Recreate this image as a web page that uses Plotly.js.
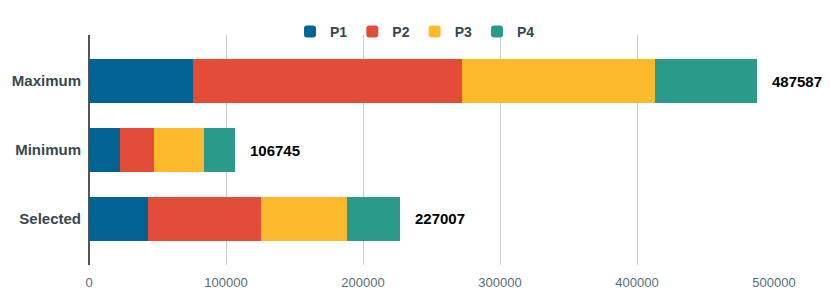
<!DOCTYPE html>
<html>
<head>
<meta charset="utf-8">
<script src="https://cdn.plot.ly/plotly-3.0.1.min.js"></script>
<style>html,body{margin:0;padding:0;background:#fff;}#chart{width:830px;height:303px;}</style>
</head>
<body>
<div id="chart"></div>
<script>
const categories = ['Maximum', 'Minimum', 'Selected'];
const seriesNames = ['P1', 'P2', 'P3', 'P4'];
const P1 = [76130, 22340, 42800];
const P2 = [196130, 25110, 82970];
const P3 = [141100, 36710, 62770];
const P4 = [74227, 22585, 38467];
const xTicks = [0, 100000, 200000, 300000, 400000, 500000];

const colors = ['#026493', '#E34C39', '#FCB92B', '#2A9A8A'];
const allSeries = [P1, P2, P3, P4];

const traces = allSeries.map((vals, i) => ({
  type: 'bar',
  orientation: 'h',
  name: seriesNames[i],
  y: categories,
  x: vals,
  marker: {color: colors[i], line: {width: 0}},
  hoverinfo: 'none'
}));

const totals = categories.map((c, j) => allSeries.reduce((s, arr) => s + arr[j], 0));
const annotations = categories.map((c, j) => ({
  x: totals[j], y: c, xref: 'x', yref: 'y',
  text: String(totals[j]), showarrow: false,
  xanchor: 'left', xshift: 13, yanchor: 'middle',
  font: {family: 'Liberation Sans, Arial, sans-serif', size: 15, color: '#000', weight: 'bold'}
}));

const layout = {
  width: 830, height: 303,
  margin: {l: 89, r: 56, t: 35, b: 38, autoexpand: false},
  barmode: 'stack',
  bargap: 0.36,
  barcornerradius: 2,
  paper_bgcolor: '#fff', plot_bgcolor: '#fff',
  font: {family: 'Liberation Sans, Arial, sans-serif'},
  showlegend: true,
  legend: {
    orientation: 'h', xref: 'container', yref: 'container',
    x: 0.5, xanchor: 'center', y: 1 - 32/303, yanchor: 'middle',
    font: {size: 14, color: '#37474F', weight: 'bold'},
    traceorder: 'normal', itemclick: false, bgcolor: 'rgba(0,0,0,0)'
  },
  xaxis: {
    range: [0, 500000], tickvals: xTicks, ticktext: xTicks.map(String),
    showgrid: true, gridcolor: '#CCCCCC', gridwidth: 1,
    zeroline: true, zerolinecolor: '#555555', zerolinewidth: 1.5,
    showline: false, ticks: '', automargin: false,
    tickfont: {size: 13, color: '#546E7A'}, ticklabelstandoff: 8,
    fixedrange: true
  },
  yaxis: {
    type: 'category', categoryorder: 'array', categoryarray: ['Selected', 'Minimum', 'Maximum'],
    range: [-0.667, 2.667], showgrid: false, zeroline: false, showline: false, ticks: '', automargin: false,
    tickfont: {size: 15, color: '#37474F', weight: 'bold'}, ticklabelstandoff: 7,
    fixedrange: true
  },
  annotations: annotations
};

Plotly.newPlot('chart', traces, layout, {displayModeBar: false, staticPlot: true});
</script>
</body>
</html>
